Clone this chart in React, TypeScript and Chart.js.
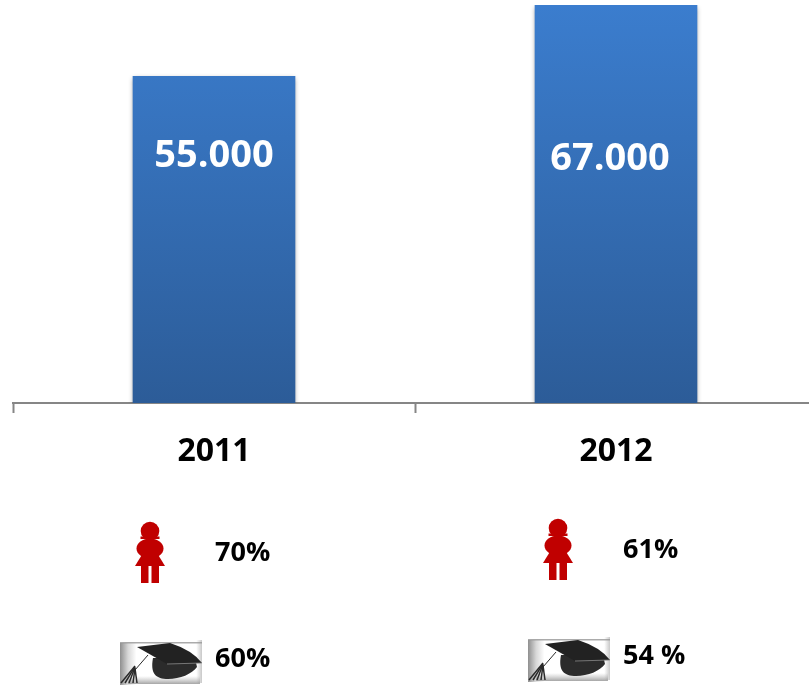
import React, { useEffect, useRef } from "react";
import { Chart, registerables } from "chart.js";

Chart.register(...registerables);

const years = ["2011", "2012"];
const enrolment = [55000, 67000];
const valueLabels = ["55.000", "67.000"];
const womenLabels = ["70%", "61%"];
const graduateLabels = ["60%", "54 %"];

const FONT = "'Open Sans', Lato, sans-serif";

function drawWoman(ctx: CanvasRenderingContext2D, cx: number, top: number) {
  ctx.save();
  ctx.translate(cx, top);
  ctx.fillStyle = "#C00000";
  ctx.beginPath();
  ctx.arc(0, 9, 9.3, 0, Math.PI * 2);
  ctx.fill();
  ctx.fillRect(-9.5, 14.5, 19, 2.5);
  ctx.beginPath();
  ctx.ellipse(0, 26.5, 13.5, 10, 0, 0, Math.PI * 2);
  ctx.fill();
  ctx.beginPath();
  ctx.moveTo(-7, 31);
  ctx.lineTo(7, 31);
  ctx.lineTo(15, 44);
  ctx.lineTo(-15, 44);
  ctx.closePath();
  ctx.fill();
  ctx.fillRect(-9, 44, 7.5, 17);
  ctx.fillRect(1.5, 44, 7.5, 17);
  ctx.restore();
}

function drawCap(ctx: CanvasRenderingContext2D, left: number, top: number) {
  ctx.save();
  ctx.translate(left, top);
  const W = 82;
  const H = 45;
  const g = ctx.createLinearGradient(0, 0, W, 0);
  g.addColorStop(0, "#8f8f8f");
  g.addColorStop(0.1, "#d8d8d8");
  g.addColorStop(0.2, "#ffffff");
  g.addColorStop(0.93, "#ffffff");
  g.addColorStop(1, "#c8c8c8");
  ctx.fillStyle = g;
  ctx.beginPath();
  ctx.moveTo(0, 3);
  ctx.lineTo(W, 0);
  ctx.lineTo(W, H - 2);
  ctx.lineTo(0, H);
  ctx.closePath();
  ctx.fill();
  const b = ctx.createLinearGradient(0, H - 9, 0, H);
  b.addColorStop(0, "rgba(170,170,170,0)");
  b.addColorStop(1, "rgba(140,140,140,0.9)");
  ctx.fillStyle = b;
  ctx.fillRect(8, H - 9, W - 10, 8);
  ctx.fillStyle = "rgba(150,150,150,0.8)";
  ctx.fillRect(0, 2, W, 1.5);

  ctx.fillStyle = "#2b2b2b";
  ctx.beginPath();
  ctx.moveTo(33, 18);
  ctx.bezierCurveTo(30, 34, 36, 39, 48, 39);
  ctx.bezierCurveTo(60, 39, 72, 34, 77, 27);
  ctx.lineTo(75, 18);
  ctx.closePath();
  ctx.fill();
  ctx.fillStyle = "#222222";
  ctx.beginPath();
  ctx.moveTo(17, 7);
  ctx.lineTo(50, 3);
  ctx.quadraticCurveTo(72, 10, 82, 23);
  ctx.lineTo(47, 24);
  ctx.closePath();
  ctx.fill();
  ctx.strokeStyle = "#8a8a8a";
  ctx.lineWidth = 0.8;
  ctx.beginPath();
  ctx.moveTo(47, 24);
  ctx.lineTo(82, 23);
  ctx.stroke();

  ctx.strokeStyle = "#2a2a2a";
  ctx.lineWidth = 1.5;
  [0, 2, 4, 6, 8].forEach((d) => {
    ctx.beginPath();
    ctx.moveTo(15, 26 + d / 3);
    ctx.lineTo(1 + d * 2, 43);
    ctx.stroke();
  });
  ctx.lineWidth = 1;
  ctx.beginPath();
  ctx.moveTo(28, 15);
  ctx.lineTo(15, 30);
  ctx.stroke();
  ctx.restore();
}

const barShadow = {
  id: "barShadow",
  beforeDatasetDraw(chart: any) {
    const c = chart.ctx;
    c.save();
    c.shadowColor = "rgba(0,0,0,0.45)";
    c.shadowBlur = 5;
    c.shadowOffsetY = 2;
  },
  afterDatasetDraw(chart: any) {
    chart.ctx.restore();
  },
};

const annotations = {
  id: "annotations",
  afterDraw(chart: any) {
    const c: CanvasRenderingContext2D = chart.ctx;
    const xs = chart.scales.x;
    const ys = chart.scales.y;
    const meta = chart.getDatasetMeta(0);
    const shift = [0, -6];
    const rowShift = [0, -3];
    c.save();
    c.textBaseline = "middle";
    years.forEach((_, i) => {
      const cx = xs.getPixelForValue(i);
      c.textAlign = "center";
      c.fillStyle = "#FFFFFF";
      c.font = `bold 38px ${FONT}`;
      const y = ys.getPixelForValue(enrolment[i]);
      const labelY = i === 0 ? y + 80 : y + 154;
      c.fillText(valueLabels[i], meta.data[i].x + shift[i], labelY);

      const rowX = cx + [0, 6][i];
      drawWoman(c, rowX - 64, 522 + rowShift[i]);
      drawCap(c, rowX - 94, 640 + rowShift[i]);
      c.textAlign = "left";
      c.fillStyle = "#000000";
      c.font = `bold 27px ${FONT}`;
      c.fillText(womenLabels[i], rowX + 1, 553 + rowShift[i]);
      c.fillText(graduateLabels[i], rowX + 1, 659 + rowShift[i]);
    });
    c.restore();
  },
};

export default function App() {
  const ref = useRef<HTMLCanvasElement>(null);
  useEffect(() => {
    document.body.style.margin = "0";
    const canvas = ref.current!;
    const ctx = canvas.getContext("2d")!;
    const grad = ctx.createLinearGradient(0, 5, 0, 403);
    grad.addColorStop(0, "#3B7DCE");
    grad.addColorStop(1, "#2C5C98");
    const chart = new Chart(canvas, {
      type: "bar",
      data: {
        labels: years,
        datasets: [
          {
            data: enrolment,
            backgroundColor: grad,
            barThickness: 162,
          },
        ],
      },
      plugins: [barShadow, annotations],
      options: {
        animation: false,
        responsive: false,
        layout: { padding: { left: 13, right: 0, top: 5, bottom: 0 } },
        plugins: { legend: { display: false }, tooltip: { enabled: false } },
        scales: {
          y: { display: false, min: 0, max: 67000 },
          x: {
            border: { color: "#868686", width: 2 },
            grid: {
              offset: true,
              drawOnChartArea: false,
              drawTicks: true,
              tickLength: 10,
              tickWidth: 2,
              tickColor: "#868686",
            },
            afterFit(scale: any) {
              scale.height = 288;
            },
            ticks: {
              color: "#000000",
              padding: 20,
              font: { family: FONT, weight: "bold", size: 32 },
              maxRotation: 0,
            },
          },
        },
      },
    } as any);
    return () => chart.destroy();
  }, []);
  return (
    <div
      style={{
        position: "fixed",
        left: 0,
        top: 0,
        width: 809,
        height: 691,
        overflow: "hidden",
        background: "#fff",
      }}
    >
      <canvas ref={ref} width={817} height={691} style={{ display: "block" }} />
    </div>
  );
}
